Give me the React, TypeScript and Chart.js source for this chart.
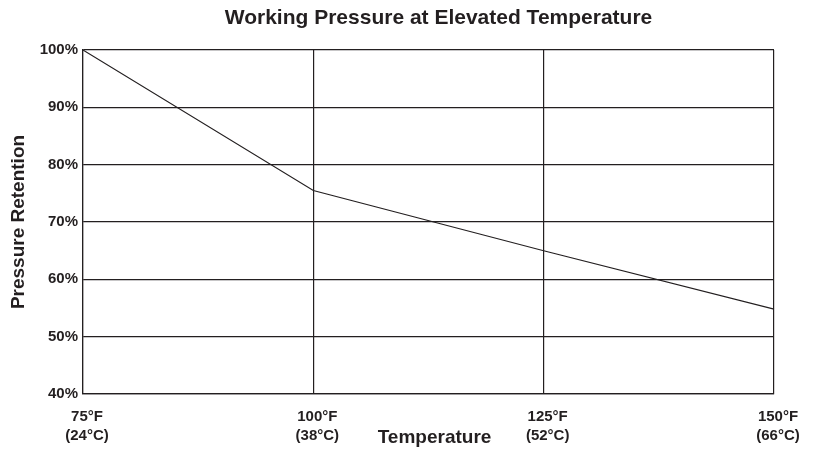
import React, { useEffect, useRef } from "react";
import { Chart, registerables } from "chart.js";

Chart.register(...registerables);

const tempF = ["75°F", "100°F", "125°F", "150°F"];
const tempC = ["(24°C)", "(38°C)", "(52°C)", "(66°C)"];
const retention = [100, 75.5, 65, 54.8];
const yMin = 40;
const yMax = 100;
const yStep = 10;

const chartTitle = "Working Pressure at Elevated Temperature";
const xTitle = "Temperature";
const yTitle = "Pressure Retention";

const FONT = "'Liberation Sans', Arial, Helvetica, sans-serif";
const INK = "#231f20";

const titlesPlugin = {
  id: "customTitles",
  afterDraw(chart: any) {
    const { ctx, chartArea } = chart;
    ctx.save();
    ctx.fillStyle = INK;
    ctx.textBaseline = "middle";
    ctx.textAlign = "center";
    ctx.font = `bold 21px ${FONT}`;
    ctx.fillText(chartTitle, chartArea.left + (chartArea.right - chartArea.left) / 2 + 10, 18);
    ctx.font = `bold 19px ${FONT}`;
    ctx.fillText(xTitle, chartArea.left + (chartArea.right - chartArea.left) / 2 + 6, chartArea.bottom + 44);
    ctx.translate(19, chartArea.top + (chartArea.bottom - chartArea.top) / 2);
    ctx.rotate(-Math.PI / 2);
    ctx.fillText(yTitle, 0, 0);
    ctx.restore();
  },
};

export default function App() {
  const ref = useRef<HTMLCanvasElement | null>(null);

  useEffect(() => {
    document.body.style.margin = "0";
    const labels = tempF.map((f, i) => [f, tempC[i]]);
    const chart = new Chart(ref.current as HTMLCanvasElement, {
      type: "line",
      data: {
        labels,
        datasets: [
          {
            data: retention,
            borderColor: INK,
            borderWidth: 1.1,
            pointRadius: 0,
            tension: 0,
            fill: false,
          },
        ],
      },
      options: {
        animation: false,
        responsive: false,
        maintainAspectRatio: false,
        layout: { padding: { left: 0, right: 50, top: 50, bottom: 0 } },
        plugins: {
          legend: { display: false },
          title: { display: false },
          tooltip: { enabled: false },
        },
        scales: {
          x: {
            type: "category",
            offset: false,
            grid: { color: INK, lineWidth: 1.2, drawTicks: false },
            border: { color: INK, width: 1.2 },
            ticks: {
              color: INK,
              font: { family: FONT, size: 15, weight: "bold", lineHeight: 1.3 },
              padding: 13,
              maxRotation: 0,
              autoSkip: false,
              labelOffset: 4,
            },
            afterFit(scale: any) {
              scale.height = 56;
            },
          },
          y: {
            min: yMin,
            max: yMax,
            grid: { color: INK, lineWidth: 1.2, drawTicks: false },
            border: { color: INK, width: 1.2 },
            ticks: {
              stepSize: yStep,
              color: INK,
              font: { family: FONT, size: 15, weight: "bold" },
              padding: 5,
              callback: (v: any) => `${v}%`,
            },
            afterFit(scale: any) {
              scale.width = 83;
            },
          },
        },
      },
      plugins: [titlesPlugin],
    });
    return () => chart.destroy();
  }, []);

  return (
    <div style={{ width: 824, height: 450, background: "#fff" }}>
      <canvas ref={ref} width={824} height={450} style={{ display: "block" }} />
    </div>
  );
}
